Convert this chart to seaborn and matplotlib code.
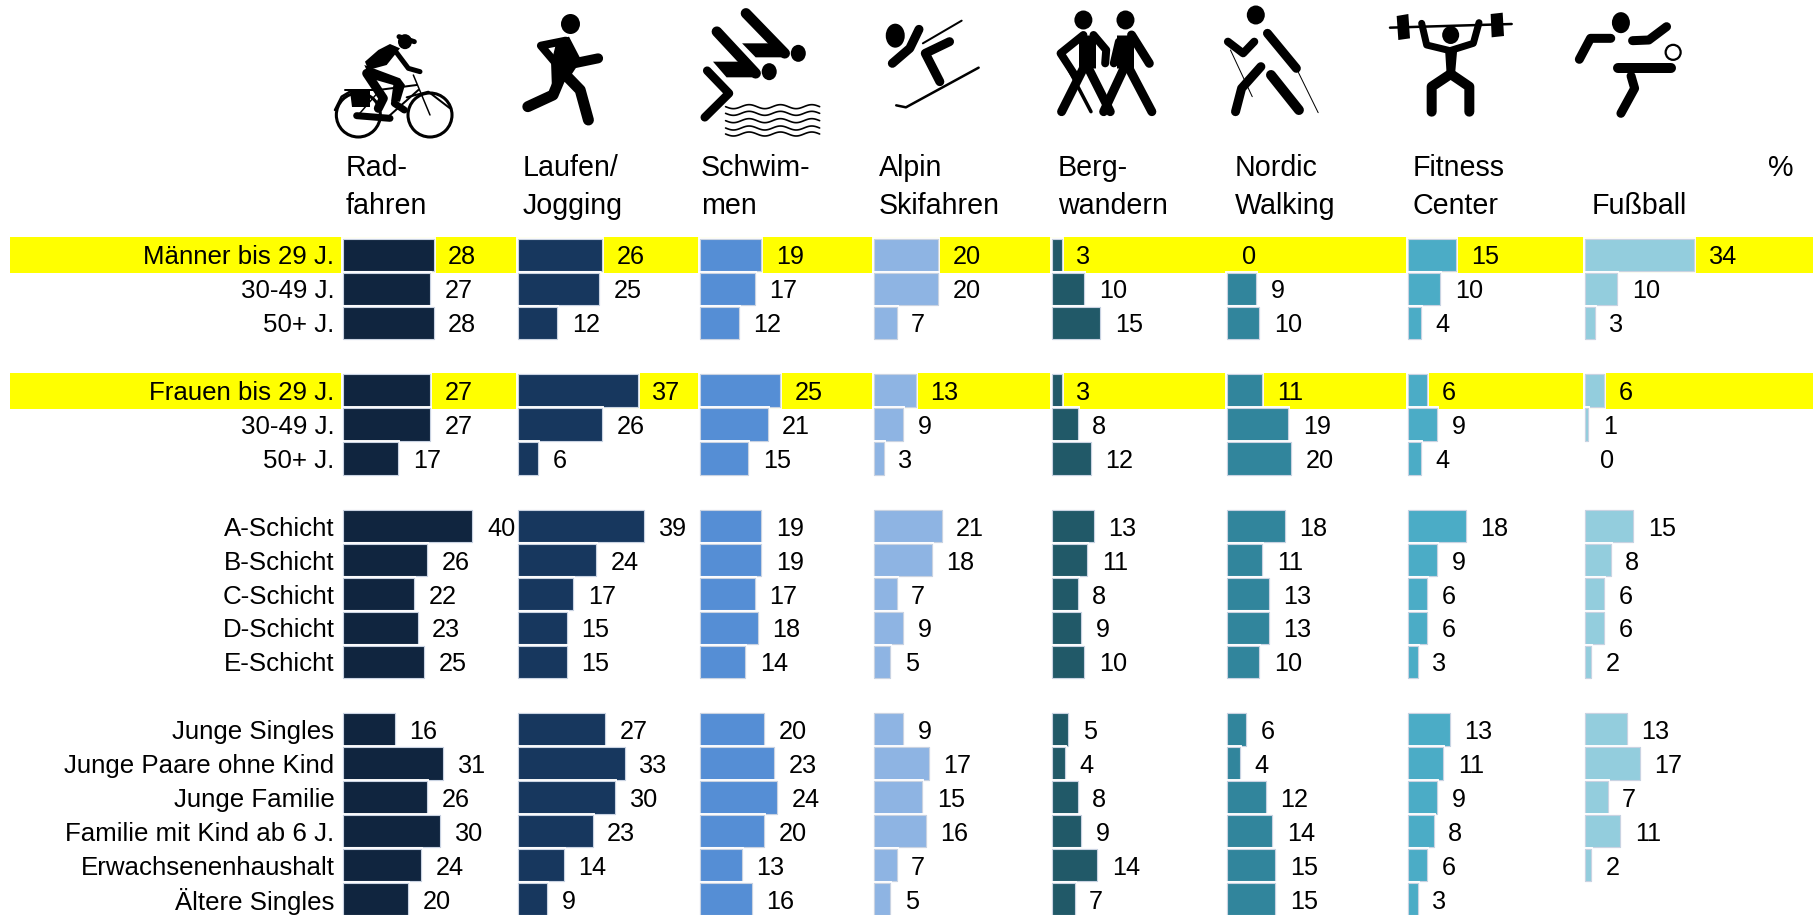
import numpy as np
import pandas as pd
import matplotlib
matplotlib.use("Agg")
import matplotlib.pyplot as plt
import matplotlib.patheffects as pe
from matplotlib.patches import Ellipse, Rectangle, Polygon, Arc
import seaborn as sns

sns.set_theme(style="white")
plt.rcParams['font.family'] = ['Liberation Sans', 'DejaVu Sans']

rows = ["Männer bis 29 J.", "30-49 J.", "50+ J.", " ",
        "Frauen bis 29 J.", "30-49 J. ", "50+ J. ", "  ",
        "A-Schicht", "B-Schicht", "C-Schicht", "D-Schicht", "E-Schicht", "   ",
        "Junge Singles", "Junge Paare ohne Kind", "Junge Familie",
        "Familie mit Kind ab 6 J.", "Erwachsenenhaushalt", "Ältere Singles"]
N = None
radfahren = [28, 27, 28, N, 27, 27, 17, N, 40, 26, 22, 23, 25, N, 16, 31, 26, 30, 24, 20]
laufen    = [26, 25, 12, N, 37, 26, 6, N, 39, 24, 17, 15, 15, N, 27, 33, 30, 23, 14, 9]
schwimmen = [19, 17, 12, N, 25, 21, 15, N, 19, 19, 17, 18, 14, N, 20, 23, 24, 20, 13, 16]
ski       = [20, 20, 7, N, 13, 9, 3, N, 21, 18, 7, 9, 5, N, 9, 17, 15, 16, 7, 5]
wandern   = [3, 10, 15, N, 3, 8, 12, N, 13, 11, 8, 9, 10, N, 5, 4, 8, 9, 14, 7]
nordic    = [0, 9, 10, N, 11, 19, 20, N, 18, 11, 13, 13, 10, N, 6, 4, 12, 14, 15, 15]
fitness   = [15, 10, 4, N, 6, 9, 4, N, 18, 9, 6, 6, 3, N, 13, 11, 9, 8, 6, 3]
fussball  = [34, 10, 3, N, 6, 1, 0, N, 15, 8, 6, 6, 2, N, 13, 17, 7, 11, 2, N]

series = [radfahren, laufen, schwimmen, ski, wandern, nordic, fitness, fussball]
colors = ["#10253F", "#17375E", "#558ED5", "#8EB4E3", "#215968", "#31859C", "#4BACC6", "#93CDDD"]
headers = [("Rad-", "fahren"), ("Laufen/", "Jogging"), ("Schwim-", "men"), ("Alpin", "Skifahren"),
           ("Berg-", "wandern"), ("Nordic", "Walking"), ("Fitness", "Center"), ("", "Fußball")]
highlight = [0, 4]

W, H = 1815, 915
base_x = [343.5, 518.5, 700, 874, 1052, 1227, 1408, 1585]
head_x = [346, 523, 701, 879, 1058, 1235, 1413, 1592]
Y0, PITCH, UNIT = 255.0, 33.9, 3.22
FS_ROW, FS_HEAD, FS_NUM = 18.6, 20.6, 18.2

fig = plt.figure(figsize=(W / 100, H / 100), dpi=100, facecolor="white")
bg = fig.add_axes([0, 0, 1, 1])
bg.set_xlim(0, W)
bg.set_ylim(H, 0)
bg.axis("off")

for r in highlight:
    bg.add_patch(Rectangle((10, Y0 + PITCH * r - 18), 1803, 36, fc="#FFFF00", ec="none"))

for i, lab in enumerate(rows):
    if lab.strip():
        bg.text(334.5, Y0 + PITCH * i, lab.strip(), ha="right", va="center_baseline",
                fontsize=FS_ROW, color="black")

for (l1, l2), x in zip(headers, head_x):
    bg.text(x, 165.5, l1, ha="left", va="center_baseline", fontsize=FS_HEAD, color="black")
    bg.text(x, 203, l2, ha="left", va="center_baseline", fontsize=FS_HEAD, color="black")
bg.text(1794, 165.5, "%", ha="right", va="center_baseline", fontsize=FS_HEAD, color="black")

for k, (vals, col, bx) in enumerate(zip(series, colors, base_x)):
    width_px = 170
    ax = fig.add_axes([bx / W, 0, width_px / W, 1])
    ax.patch.set_alpha(0)
    df = pd.DataFrame({"row": rows, "wert": pd.to_numeric(pd.Series(vals), errors="coerce")})
    sns.barplot(data=df, y="row", x="wert", order=rows, color=col, saturation=1, width=0.955,
                edgecolor="#C9D3E2", linewidth=0.8, ax=ax)
    for c in ax.containers:
        for p in c.patches:
            p.set_path_effects([pe.withStroke(linewidth=2.8, foreground="white"), pe.Normal()])
            p.set_clip_on(False)
            if p.get_width() == 0:
                p.set_visible(False)
        labs = [str(v) for v in vals if v is not None]
        t = ax.bar_label(c, labels=labs, padding=10.5, fontsize=FS_NUM, color="black", clip_on=False)
        for tt in t:
            tt.set_va("center_baseline")
    ax.set_xlim(0, width_px / UNIT)
    ax.set_ylim((H - Y0) / PITCH, -Y0 / PITCH)
    ax.axis("off")


# ---- pictograms (decoration, approximated) ----
def z1(p):
    return (300 + p[0] / 2.063, p[1] / 3)


def z2(p):
    return (1020 + p[0] / 1.972, p[1] / 3)


def cy(p):
    return (325 + p[0] / 3, 20 + p[1] / 3)


def li(p):
    return (1380 + p[0] / 3, p[1] / 3)


def stroke(m, pts, w=9, cap="round", c="black"):
    xy = [m(p) for p in pts]
    bg.plot([a for a, _ in xy], [b for _, b in xy], color=c, lw=w * 0.72,
            solid_capstyle=cap, solid_joinstyle="round", zorder=3)


def blob(m, p, wx, wy, fill=True, lw=0):
    x, y = m(p)
    bg.add_patch(Ellipse((x, y), wx, wy, fc="black" if fill else "none", ec="black", lw=lw, zorder=3))


def poly(m, pts):
    bg.add_patch(Polygon([m(p) for p in pts], closed=True, fc="black", ec="none", zorder=3))


# cyclist
for c in [(100, 285), (315, 285)]:
    blob(cy, c, 44, 44, fill=False, lw=2.2)
blob(cy, (240, 65), 14, 15)
stroke(cy, [(222, 50), (268, 65)], 5)
poly(cy, [(195, 72), (225, 85), (185, 135), (130, 150), (120, 125), (160, 90)])
poly(cy, [(118, 135), (225, 175), (240, 195), (225, 245), (198, 245), (205, 195), (135, 175)])
stroke(cy, [(205, 85), (250, 145), (285, 155)], 5)
stroke(cy, [(125, 160), (175, 235), (160, 265)], 9)
stroke(cy, [(208, 250), (238, 270)], 7)
poly(cy, [(75, 212), (135, 212), (135, 262), (80, 262)])
stroke(cy, [(60, 210), (170, 210)], 2)
stroke(cy, [(30, 270), (50, 230), (75, 215)], 2.5)
stroke(cy, [(95, 287), (195, 295)], 7)
stroke(cy, [(100, 285), (165, 210)], 1.5)
stroke(cy, [(160, 210), (275, 195)], 2)
stroke(cy, [(190, 290), (280, 210)], 2)
stroke(cy, [(265, 165), (315, 285)], 1.5)
stroke(cy, [(245, 232), (310, 215), (375, 265)], 2)

# runner
blob(z1, (558, 72), 19, 20)
poly(z1, [(530, 120), (555, 110), (580, 180), (555, 235), (520, 275), (518, 190)])
stroke(z1, [(548, 122), (497, 137), (525, 185)], 8)
stroke(z1, [(565, 190), (615, 175)], 10)
stroke(z1, [(535, 240), (522, 285), (470, 320)], 11)
stroke(z1, [(548, 225), (578, 270), (595, 360)], 11)

# swimmer
blob(z1, (1028, 160), 15, 17)
blob(z1, (968, 215), 15, 17)
stroke(z1, [(920, 40), (1000, 160)], 10.5)
poly(z1, [(912, 130), (970, 130), (1000, 172), (940, 172)])
stroke(z1, [(860, 95), (940, 220)], 10.5)
poly(z1, [(852, 185), (905, 185), (945, 232), (880, 232)])
stroke(z1, [(840, 212), (885, 280), (835, 352)], 8.5)
for y0 in [320, 340, 362, 384, 402]:
    wx = np.linspace(878, 1072, 80)
    wy = y0 + 6 * np.sin((wx - 878) / 194 * 2 * np.pi * 3)
    px = [z1((a, b)) for a, b in zip(wx, wy)]
    bg.plot([a for a, _ in px], [b for _, b in px], color="black", lw=1.2, zorder=3)

# skier
blob(z1, (1228, 107), 19, 24)
stroke(z1, [(1277, 88), (1258, 145), (1222, 190)], 9)
stroke(z1, [(1340, 125), (1290, 160), (1320, 245)], 9)
stroke(z1, [(1365, 62), (1285, 130)], 2)
stroke(z1, [(1400, 203), (1250, 322), (1230, 316)], 2.5)

# hikers
blob(z2, (125, 60), 18, 19)
blob(z2, (208, 60), 18, 19)
stroke(z2, [(132, 105), (132, 205)], 17, cap="butt")
stroke(z2, [(125, 105), (80, 160), (110, 230)], 8)
stroke(z2, [(145, 105), (170, 150), (168, 190)], 8)
stroke(z2, [(125, 205), (82, 335)], 9)
stroke(z2, [(135, 205), (178, 335)], 9)
stroke(z2, [(85, 175), (140, 335)], 3.5)
stroke(z2, [(208, 105), (208, 205)], 17, cap="butt")
stroke(z2, [(195, 125), (185, 190)], 8)
stroke(z2, [(220, 105), (255, 190)], 9)
stroke(z2, [(205, 205), (165, 335)], 9)
stroke(z2, [(215, 205), (260, 335)], 9)

# nordic walker
blob(z2, (465, 45), 18, 19)
stroke(z2, [(410, 125), (440, 160), (462, 125)], 8)
stroke(z2, [(488, 100), (545, 205)], 9)
stroke(z2, [(475, 200), (437, 265), (425, 335)], 9)
stroke(z2, [(495, 225), (550, 330)], 10)
stroke(z2, [(415, 150), (458, 290)], 1)
stroke(z2, [(545, 205), (588, 338)], 1)

# weightlifter
blob(li, (212, 105), 17, 18)
stroke(li, [(30, 83), (395, 72)], 2.5)
poly(li, [(50, 48), (85, 42), (90, 115), (55, 120)])
poly(li, [(332, 42), (368, 38), (372, 108), (335, 112)])
stroke(li, [(125, 70), (140, 135), (210, 152), (280, 130), (297, 68)], 7)
poly(li, [(195, 145), (232, 145), (225, 225), (200, 225)])
stroke(li, [(212, 222), (155, 260), (155, 335)], 10)
stroke(li, [(212, 222), (268, 260), (268, 335)], 10)

# soccer player
blob(z2, (1185, 68), 18, 21)
stroke(z2, [(1208, 122), (1240, 120), (1275, 80)], 9)
stroke(z2, [(1165, 115), (1125, 115), (1103, 178)], 9)
stroke(z2, [(1180, 203), (1283, 203)], 10)
stroke(z2, [(1205, 228), (1212, 265), (1185, 340)], 9)
blob(z2, (1288, 157), 15, 15, fill=False, lw=1.6)

fig.savefig("out.png", dpi=100, facecolor="white")
